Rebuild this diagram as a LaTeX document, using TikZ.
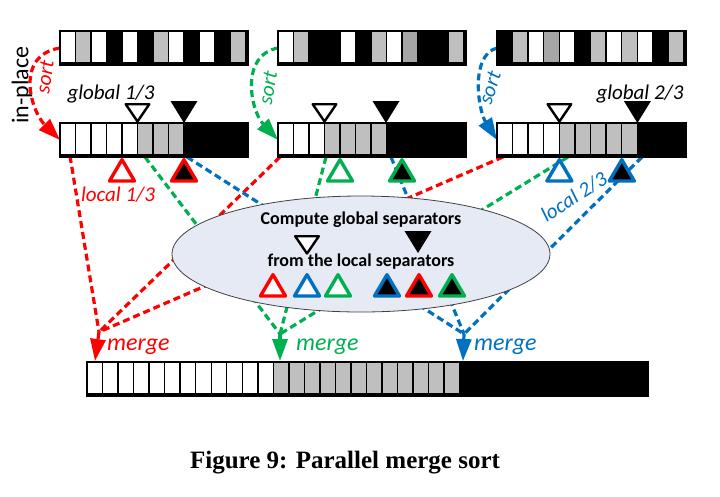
\documentclass[tikz,border=0pt]{standalone}
\usepackage{fontspec}
\setmainfont{Carlito}
\newfontfamily\capfont{Liberation Serif}
\usetikzlibrary{shapes.geometric,arrows.meta}
\definecolor{cr}{RGB}{255,0,0}
\definecolor{cg}{RGB}{0,176,80}
\definecolor{cb}{RGB}{0,112,192}
\definecolor{cG}{RGB}{191,191,191}
\definecolor{cD}{RGB}{166,166,166}
\definecolor{ellfill}{RGB}{230,234,245}
\newcommand\arrcells[4]{\foreach \cc [count=\ii from 0] in {#4} {\filldraw[cell, fill=\cc] (#1+\ii*#3, #2) rectangle ++(#3, 32);}}
\tikzset{
  cell/.style={draw=black, line width=1.4pt},
  arrbox/.style={draw=black, line width=2pt, inner sep=0pt, minimum height=32pt, anchor=north west},
  dl/.style={line width=3.2pt, dash pattern=on 7pt off 4pt},
  tip/.style={-{Triangle[length=22pt,width=15pt]}},
  lbl/.style={font=\fontsize{21}{24}\selectfont\itshape, inner sep=0pt},
  etxt/.style={font=\fontsize{18}{21}\selectfont\bfseries, inner sep=0pt},
  gopen/.pic={\filldraw[fill=white, draw=black, line width=2.4pt, line join=round] (0,-1.5) -- (-11.8,-18.8) -- (11.8,-18.8) -- cycle;},
  gblack/.pic={\fill[black] (0,0) -- (-13.5,-22) -- (13.5,-22) -- cycle;},
  lopen/.pic={\filldraw[fill=white, line width=3.4pt, line join=round] (0,1.7) -- (-12.5,23) -- (12.5,23) -- cycle;},
  lblack/.pic={\filldraw[fill=black, line width=3.4pt, line join=round] (0,1.7) -- (-12.5,23) -- (12.5,23) -- cycle;}
}
\begin{document}
\begin{tikzpicture}[x=1pt,y=-1pt]
\useasboundingbox (0,0) rectangle (720,496);
% array frames (named)
\node[arrbox, minimum width=186pt] (u1) at (60,31) {};
\node[arrbox, minimum width=186pt] (u2) at (278,31) {};
\node[arrbox, minimum width=187pt] (u3) at (497,31) {};
\node[arrbox, minimum width=186pt] (s1) at (60,123) {};
\node[arrbox, minimum width=186pt] (s2) at (278,123) {};
\node[arrbox, minimum width=187pt] (s3) at (497,123) {};
\node[arrbox, minimum width=559pt] (m) at (87,362) {};
% connector points
\coordinate (r1) at (70,156);  \coordinate (r2) at (280,157); \coordinate (r3) at (503,157);
\coordinate (g1) at (145,157); \coordinate (g2) at (326,157); \coordinate (g3) at (568,157);
\coordinate (b1) at (187,157); \coordinate (b2) at (391,157); \coordinate (b3) at (642,157);
\coordinate (mr) at (99,332);  \coordinate (mg) at (280,334); \coordinate (mb) at (464,334);
\coordinate (tr) at (95,361);  \coordinate (tg) at (280,361); \coordinate (tb) at (463,361);
% merge lines
\draw[dl, cr] (r2) -- (mr); \draw[dl, cr] (r3) -- (mr); \draw[dl, cr] (r1) -- (mr);
\draw[dl, cg] (g1) -- (mg); \draw[dl, cg] (g2) -- (mg); \draw[dl, cg] (g3) -- (mg);
\draw[dl, cb] (b1) -- (mb); \draw[dl, cb] (b2) -- (mb); \draw[dl, cb] (b3) -- (mb);
\draw[dl, cr, tip] (mr) -- (tr);
\draw[dl, cg, tip] (mg) -- (tg);
\draw[dl, cb, tip] (mb) -- (tb);
% sort arrows
\draw[dl, cr, tip] (u1.west) .. controls (15,55) and (30,110) .. (s1.west);
\draw[dl, cg, tip] (u2.west) .. controls (240,55) and (250,110) .. (s2.west);
\draw[dl, cb, tip] (u3.west) .. controls (470,55) and (478,110) .. (s3.west);
% cells
\arrcells{60}{31}{15.5}{white,cG,white,black,white,black,cG,white,black,white,black,cG}
\arrcells{278}{31}{15.5}{white,cG,black,black,white,black,cG,white,cD,black,black,cG}
\arrcells{497}{31}{15.58}{black,cG,white,cD,white,black,cG,white,cG,white,black,cG}
\arrcells{60}{123}{15.5}{white,white,white,white,white,cG,cG,cG,black,black,black,black}
\arrcells{278}{123}{15.5}{white,white,white,cG,cG,cG,cG,black,black,black,black,black}
\arrcells{497}{123}{15.58}{white,white,white,white,cG,cG,cG,cG,cG,black,black,black}
\arrcells{87}{362}{15.53}{white,white,white,white,white,white,white,white,white,white,white,white,cG,cG,cG,cG,cG,cG,cG,cG,cG,cG,cG,cG,black,black,black,black,black,black,black,black,black,black,black,black}
\foreach \n in {u1,u2,u3,s1,s2,s3,m} {\draw[line width=2pt] (\n.north west) rectangle (\n.south east);}
% global separators
\pic at (137.5,123) {gopen};  \pic at (184,123) {gblack};
\pic at (324.5,123) {gopen};  \pic at (386,123) {gblack};
\pic at (559.4,123) {gopen};  \pic at (637.4,123) {gblack};
% local separators
\pic[color=cr] at (122,158) {lopen};   \pic[color=cr] at (184,158) {lblack};
\pic[color=cg] at (340,158) {lopen};   \pic[color=cg] at (402,158) {lblack};
\pic[color=cb] at (559.4,158) {lopen}; \pic[color=cb] at (621.8,158) {lblack};
% ellipse
\node[ellipse, draw=black!75, line width=0.8pt, fill=ellfill, minimum width=378pt, minimum height=116pt] (E) at (361,254) {};
\node[etxt] (t1) at (361,220) {Compute global separators};
\node[etxt] (t2) at (361,262) {from the local separators};
\pic at (307,255) {gopen}; \pic at (418,253) {gblack};
\pic[color=cr] at (273,273) {lopen};
\pic[color=cb] at (307,273) {lopen};
\pic[color=cg] at (338,273) {lopen};
\pic[color=cb] at (387,273) {lblack};
\pic[color=cr] at (419,273) {lblack};
\pic[color=cg] at (452,273) {lblack};
% labels
\node[lbl] (lg1) at (111,94) {global 1/3};
\node[lbl] (lg2) at (640,94) {global 2/3};
\node[lbl, text=cr] (ll1) at (118,195) {local 1/3};
\node[lbl, text=cb, rotate=33] (ll2) at (574,197) {local 2/3};
\node[lbl, font=\fontsize{24}{26}\selectfont, rotate=90] (ip) at (22,85) {in-place};
\node[lbl, text=cr, rotate=82] (so1) at (45,77) {sort};
\node[lbl, text=cg, rotate=80] (so2) at (268,88) {sort};
\node[lbl, text=cb, rotate=72] (so3) at (490,88) {sort};
\node[lbl, font=\fontsize{24}{26}\selectfont\itshape, text=cr, anchor=west] (me1) at (107,347) {merge};
\node[lbl, font=\fontsize{24}{26}\selectfont\itshape, text=cg, anchor=west] (me2) at (296,347) {merge};
\node[lbl, font=\fontsize{24}{26}\selectfont\itshape, text=cb, anchor=west] (me3) at (474,347) {merge};
\node[font=\capfont\bfseries\fontsize{25}{28}\selectfont, inner sep=0pt] (cap) at (345,463) {Figure 9: Parallel merge sort};
\end{tikzpicture}
\end{document}
